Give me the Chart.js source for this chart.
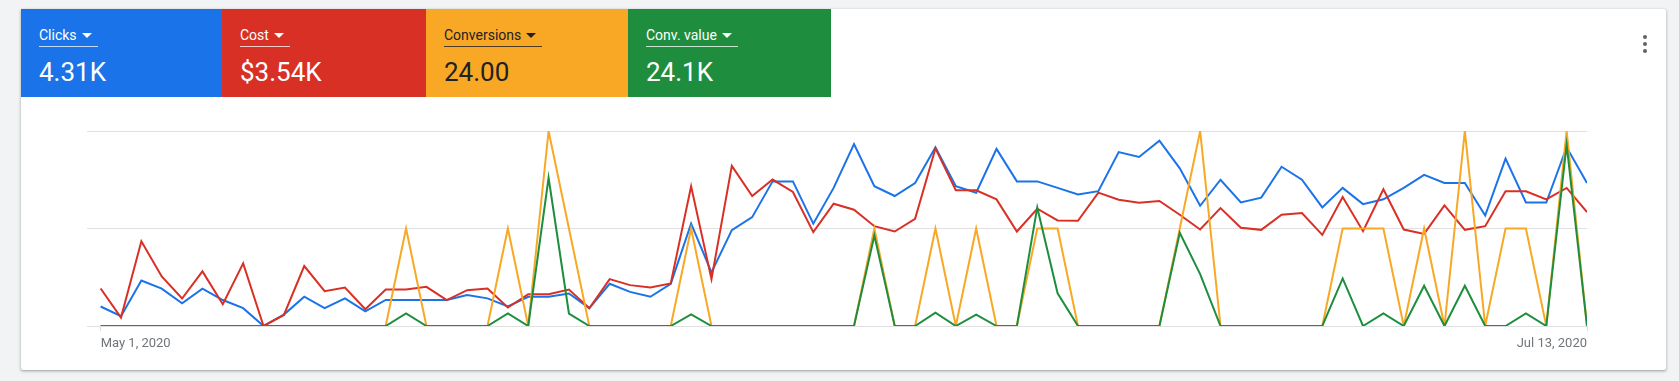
<!DOCTYPE html>
<html>
<head>
<meta charset="utf-8">
<script src="https://cdn.jsdelivr.net/npm/chart.js@4.4.0/dist/chart.umd.min.js"></script>
<style>
html,body{margin:0;padding:0;background:#f1f3f4;width:1679px;height:381px;overflow:hidden;font-family:Roboto,Arial,sans-serif;}
#card{position:absolute;left:21px;top:9px;width:1645px;height:361px;background:#fff;border-radius:2px;box-shadow:0 1px 2px rgba(60,64,67,.3),0 1px 3px 1px rgba(60,64,67,.15);}
.tile{position:absolute;top:0;height:88px;color:#fff;}
.lbl{position:absolute;left:18px;top:17px;font-size:14px;line-height:18px;padding-bottom:2px;padding-right:6px;border-bottom:1px solid rgba(255,255,255,.75);white-space:nowrap;}
.arrow{display:inline-block;width:0;height:0;border-left:5px solid transparent;border-right:5px solid transparent;border-top:5px solid currentColor;margin-left:5px;vertical-align:middle;position:relative;top:-1px;}
.val{position:absolute;left:18px;top:48px;font-size:26px;line-height:30px;white-space:nowrap;}
.dark{color:#202124;}
.dark .lbl{border-bottom-color:rgba(32,33,36,.8);}
.dot{position:absolute;left:1622px;width:4px;height:4px;border-radius:2px;background:#5f6368;}
#wrap{position:absolute;left:87px;top:121px;width:1510px;height:240px;}
</style>
</head>
<body>
<div id="card">
  <div class="tile" style="left:0;width:201px;background:#1a73e8;"><div class="lbl">Clicks<span class="arrow"></span></div><div class="val">4.31K</div></div>
  <div class="tile" style="left:201px;width:204px;background:#d93025;"><div class="lbl">Cost<span class="arrow"></span></div><div class="val">$3.54K</div></div>
  <div class="tile dark" style="left:405px;width:202px;background:#f9a825;"><div class="lbl">Conversions<span class="arrow"></span></div><div class="val">24.00</div></div>
  <div class="tile" style="left:607px;width:203px;background:#1e8e3e;"><div class="lbl">Conv. value<span class="arrow"></span></div><div class="val">24.1K</div></div>
  <div class="dot" style="top:26px"></div>
  <div class="dot" style="top:33px"></div>
  <div class="dot" style="top:40px"></div>
</div>
<div id="wrap"><canvas id="c" width="1510" height="240"></canvas></div>
<script>
// ---- Data ----
const startYear = 2020, startMonth = 4, startDay = 1, dayCount = 74; // May 1 .. Jul 13, 2020
const monthNames = ['Jan','Feb','Mar','Apr','May','Jun','Jul','Aug','Sep','Oct','Nov','Dec'];
const dateLabels = [];
for (let i = 0; i < dayCount; i++) {
  const d = new Date(startYear, startMonth, startDay + i);
  dateLabels.push(monthNames[d.getMonth()] + ' ' + d.getDate() + ', ' + d.getFullYear());
}

const clicks = [12,6,28,23,14,23,16,11,0,7,
  18,11,17,9,16,16,16,16,19,17,
  12,18,18,20,11,26,21,18,26,63,
  33,59,67,89,89,63,85,112,86,80,
  88,110,86,82,109,89,89,85,81,83,
  107,104,114,97,74,90,76,79,98,90,
  73,85,75,78,85,93,88,88,68,103,
  76,76,110,88];

const cost = [21.17,4.73,47.82,27.97,15.50,30.81,12.29,35.34,0,6.24,
  33.83,19.66,21.74,9.45,20.60,20.60,22.11,14.55,20.22,21.17,
  10.40,17.96,17.96,20.60,10.02,26.46,23.06,21.74,24.00,78.81,
  26.46,90.34,73.33,82.59,75.60,52.92,68.99,65.58,56.32,53.30,
  60.48,100.17,76.55,76.55,71.44,53.30,66.15,59.54,59.35,75.22,
  71.25,69.55,70.50,62.75,54.43,66.53,55.38,54.24,62.75,63.69,
  51.41,72.77,53.49,77.11,54.43,51.98,68.04,54.24,56.32,75.98,
  75.98,71.44,77.87,64.26];

const conversions = [0,0,0,0,0,0,0,0,0,0,
  0,0,0,0,0,1,0,0,0,0,
  1,0,2,1,0,0,0,0,0,1,
  0,0,0,0,0,0,0,0,1,0,
  0,1,0,1,0,0,1,1,0,0,
  0,0,0,1,2,0,0,0,0,0,
  0,1,1,1,0,1,0,2,0,1,
  1,0,2,0];

const convValue = [0,0,0,0,0,0,0,0,0,0,
  0,0,0,0,0,320,0,0,0,0,
  320,0,3800,320,0,0,0,0,0,300,
  0,0,0,0,0,0,0,0,2320,0,
  0,340,0,290,0,0,3040,840,0,0,
  0,0,0,2390,1330,0,0,0,0,0,
  0,1220,0,325,0,1030,0,1030,0,0,
  325,0,4650,0];

const axisMax = { clicks: 120, cost: 110, conversions: 2, convValue: 5000 };

// ---- Chart ----
Chart.defaults.font.family = 'Roboto, Arial, sans-serif';
const toPts = arr => arr.map((v, i) => ({ x: i, y: v }));
const lineDs = (label, arr, color, axis) => ({
  label, data: toPts(arr), borderColor: color, backgroundColor: color,
  borderWidth: 2, pointRadius: 0, tension: 0, fill: false, yAxisID: axis
});

new Chart(document.getElementById('c'), {
  type: 'line',
  data: {
    datasets: [
      lineDs('Conv. value', convValue, '#1e8e3e', 'yV'),
      lineDs('Conversions', conversions, '#f9a825', 'yConv'),
      lineDs('Cost', cost, '#d93025', 'yCost'),
      lineDs('Clicks', clicks, '#1a73e8', 'y')
    ]
  },
  options: {
    responsive: false,
    animation: false,
    devicePixelRatio: 1,
    layout: { padding: { top: 10, right: 10, left: 0, bottom: 4.4 } },
    plugins: { legend: { display: false }, tooltip: { enabled: false } },
    scales: {
      x: {
        type: 'linear',
        min: -0.67,
        max: dayCount - 1,
        afterBuildTicks: (scale) => { scale.ticks = [{ value: 0 }, { value: dayCount - 1 }]; },
        ticks: {
          callback: (v) => dateLabels[v] ?? '',
          align: 'inner',
          maxRotation: 0,
          autoSkip: false,
          padding: 5,
          color: '#70757a',
          font: { size: 13 }
        },
        grid: { drawOnChartArea: false, drawTicks: true, tickLength: 5, color: '#dadce0' },
        border: { display: false }
      },
      y: {
        min: 0, max: axisMax.clicks,
        ticks: { display: false, stepSize: axisMax.clicks / 2 },
        grid: { drawTicks: false, color: '#e0e0e0', lineWidth: 1 },
        border: { display: false }
      },
      yCost: { display: false, min: 0, max: axisMax.cost },
      yConv: { display: false, min: 0, max: axisMax.conversions },
      yV: { display: false, min: 0, max: axisMax.convValue }
    }
  }
});
</script>
</body>
</html>
